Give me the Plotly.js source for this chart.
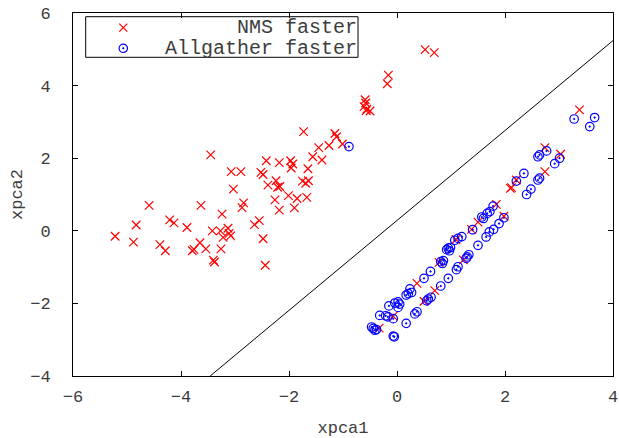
<!DOCTYPE html>
<html>
<head>
<meta charset="utf-8">
<script src="https://cdn.plot.ly/plotly-3.0.1.min.js"></script>
<style>html,body{margin:0;padding:0;background:#fff;}</style>
</head>
<body>
<div id="chart" style="width:619px;height:438px;"></div>
<script>
// NMS faster (red x)
const nmsX = [-5.22,-4.88,-4.83,-4.59,-4.39,-4.29,-4.21,-4.13,-3.89,-3.79,-3.76,-3.65,-3.63,-3.54,-3.45,-3.42,-3.40,-3.38,-3.27,-3.26,-3.24,-3.22,-3.13,-3.11,-3.08,-3.07,-3.03,-2.89,-2.87,-2.84,-2.64,-2.55,-2.52,-2.48,-2.48,-2.44,-2.42,-2.39,-2.26,-2.24,-2.21,-2.17,-2.18,-2.18,-2.01,-1.97,-1.93,-1.96,-1.90,-1.85,-1.75,-1.69,-1.64,-1.67,-1.65,-1.56,-1.39,-1.73,-1.45,-1.26,-1.15,-1.12,-1.01,
  -0.59,-0.58,-0.61,-0.56,-0.50,-0.57,-0.16,-0.18,0.52,0.69,
  -0.33,-0.07,0.37,0.50,0.70,0.78,1.09,1.23,1.38,1.50,1.84,1.98,2.12,2.10,2.21,2.74,2.74,3.03,3.38];
const nmsY = [-0.15,-0.31,0.16,0.70,-0.38,-0.55,0.30,0.22,0.09,-0.55,-0.51,-0.33,0.70,-0.50,2.09,0.00,-0.81,-0.86,0.00,-0.50,0.46,-0.18,0.07,-0.07,-0.14,1.63,1.15,1.63,0.64,0.77,0.17,0.28,1.61,1.55,-0.22,-0.95,1.93,1.26,0.85,1.38,1.20,1.22,0.57,1.88,0.97,1.93,1.84,1.73,0.63,0.89,1.37,1.31,1.38,0.92,1.71,2.04,1.95,2.73,2.29,2.35,2.68,2.59,2.39,
  3.61,3.52,3.42,3.35,3.30,3.31,4.29,4.05,4.99,4.91,
  -2.68,-2.35,-1.45,-1.94,-1.65,-0.87,-0.24,-0.80,0.04,0.24,0.73,0.40,1.19,1.17,1.40,1.63,2.29,2.11,3.33];

// Allgather faster (blue circle-dot)
const agX = [-0.89,
  -0.47,-0.44,-0.38,-0.41,-0.32,-0.21,-0.17,-0.07,-0.15,-0.04,0.02,0.05,0.02,0.17,0.21,0.24,0.27,0.50,0.62,0.81,0.86,0.84,0.92,0.95,0.97,0.99,1.07,1.13,1.20,1.40,1.57,1.60,1.67,1.72,1.78,
  -0.07,-0.05,0.17,0.33,0.37,0.55,0.58,0.63,0.81,0.95,1.10,1.13,1.28,1.30,1.33,1.50,1.65,1.71,1.79,1.89,1.98,
  2.21,2.35,2.40,2.48,2.61,2.64,2.61,2.64,2.77,2.92,3.01,3.28,3.57,3.66];
const agY = [2.32,
  -2.65,-2.69,-2.72,-2.74,-2.33,-2.34,-2.37,-2.42,-2.07,-1.99,-1.96,-2.02,-2.11,-1.77,-1.73,-1.60,-1.70,-1.31,-1.12,-0.85,-0.82,-0.90,-0.52,-0.48,-0.55,-0.46,-0.26,-0.21,-0.16,0.03,0.38,0.34,0.48,0.53,0.68,
  -2.90,-2.92,-2.55,-2.29,-2.23,-1.93,-1.88,-1.83,-1.52,-1.31,-1.07,-0.99,-0.76,-0.72,-0.66,-0.40,-0.17,-0.03,0.04,0.20,0.36,
  1.37,1.58,1.00,1.15,1.40,1.45,2.04,2.09,2.20,1.85,2.00,3.08,2.87,3.12];

// separating line
const boundaryX = [-3.46, 4];
const boundaryY = [-4, 5.24];

const labels = ['NMS faster', 'Allgather faster'];
const xTicks = [-6,-4,-2,0,2,4];
const yTicks = [-4,-2,0,2,4,6];

const FONT = 'Liberation Mono, Courier New, monospace';
const TXT = '#3c3c3c';

const traces = [
  {x: boundaryX, y: boundaryY, mode: 'lines', line: {color: '#000', width: 1}, showlegend: false, hoverinfo: 'skip'},
  {x: nmsX, y: nmsY, mode: 'markers', name: labels[0],
   marker: {symbol: 'x-thin', size: 8.5, color: '#ff0000', line: {color: '#ff0000', width: 1.2}}, showlegend: false},
  {x: agX, y: agY, mode: 'markers', name: labels[1],
   marker: {symbol: 'circle-open-dot', size: 8.5, color: '#0000ff', line: {color: '#0000ff', width: 1.2}}, showlegend: false}
];

const W = 619, H = 438, ml = 73, mr = 6, mt = 13, mb = 62;
const pw = W - ml - mr, ph = H - mt - mb;
const px = v => (v - ml) / pw;
const py = v => (H - mb - v) / ph;

const keyX = px(123.3);
const row1 = py(27.7), row2 = py(48.3);

const layout = {
  width: W, height: H,
  margin: {l: ml, r: mr, t: mt, b: mb},
  paper_bgcolor: '#fff', plot_bgcolor: '#fff',
  showlegend: false,
  font: {family: FONT, color: TXT, size: 17},
  xaxis: {
    range: [-6, 4], tickvals: xTicks, ticks: 'inside', ticklen: 5, tickcolor: '#000',
    showline: true, linecolor: '#000', linewidth: 1, mirror: 'ticks',
    showgrid: false, zeroline: false, ticklabelstandoff: 5,
    tickfont: {family: FONT, size: 17, color: TXT},
    title: {text: 'xpca1', font: {family: FONT, size: 17, color: TXT}, standoff: 14}
  },
  yaxis: {
    range: [-4, 6], tickvals: yTicks, ticks: 'inside', ticklen: 5, tickcolor: '#000',
    showline: true, linecolor: '#000', linewidth: 1, mirror: 'ticks',
    showgrid: false, zeroline: false, ticklabelstandoff: 18,
    tickfont: {family: FONT, size: 17, color: TXT},
    title: {text: 'xpca2', font: {family: FONT, size: 17, color: TXT}, standoff: 3}
  },
  shapes: [
    {type: 'rect', xref: 'paper', yref: 'paper', x0: px(85.7), x1: px(358), y0: py(57.3), y1: py(16.7),
     line: {color: '#000', width: 1}, fillcolor: 'rgba(255,255,255,0)', layer: 'above'},
    {type: 'path', xref: 'paper', yref: 'paper', xsizemode: 'pixel', ysizemode: 'pixel',
     xanchor: keyX, yanchor: row1, path: 'M-4,-4L4,4M-4,4L4,-4', line: {color: '#ff0000', width: 1.2}},
    {type: 'circle', xref: 'paper', yref: 'paper', xsizemode: 'pixel', ysizemode: 'pixel',
     xanchor: keyX, yanchor: row2, x0: -4.2, x1: 4.2, y0: -4.2, y1: 4.2, line: {color: '#0000ff', width: 1.2}},
    {type: 'circle', xref: 'paper', yref: 'paper', xsizemode: 'pixel', ysizemode: 'pixel',
     xanchor: keyX, yanchor: row2, x0: -0.8, x1: 0.8, y0: -0.8, y1: 0.8, line: {color: '#0000ff', width: 0.6}, fillcolor: '#0000ff'}
  ],
  annotations: [
    {text: labels[0], xref: 'paper', yref: 'paper', x: px(358), y: row1, xanchor: 'right', yanchor: 'middle',
     showarrow: false, borderpad: 0, font: {family: FONT, size: 20, color: TXT}},
    {text: labels[1], xref: 'paper', yref: 'paper', x: px(358), y: row2, xanchor: 'right', yanchor: 'middle',
     showarrow: false, borderpad: 0, font: {family: FONT, size: 20, color: TXT}}
  ]
};

Plotly.newPlot('chart', traces, layout, {displayModeBar: false, staticPlot: true});
</script>
</body>
</html>
